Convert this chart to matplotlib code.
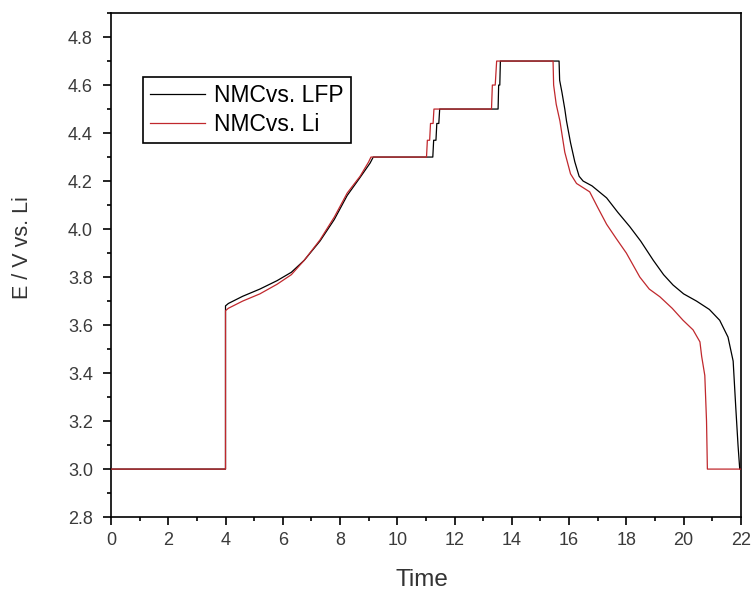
import matplotlib
matplotlib.use('Agg')
import matplotlib.pyplot as plt
from matplotlib.ticker import MultipleLocator

plt.rcParams['font.family'] = ['Liberation Sans', 'DejaVu Sans']

# NMC vs. LFP (black)
t_lfp = [0, 4.0, 4.0, 4.1, 4.6, 5.2, 5.8, 6.3, 6.75, 7.3, 7.8, 8.25, 8.7, 9.05, 9.16,
         11.24, 11.27, 11.35, 11.38, 11.45, 11.48, 11.51,
         13.52, 13.54, 13.58, 13.6,
         15.65, 15.67, 15.75, 15.85, 15.91, 16.05, 16.2, 16.35, 16.49, 16.8, 17.31, 17.7,
         18.12, 18.5, 18.94, 19.3, 19.63, 20.0, 20.45, 20.9, 21.26, 21.55, 21.73, 21.82,
         21.9, 21.96, 22.0]
v_lfp = [3.0, 3.0, 3.68, 3.69, 3.72, 3.75, 3.785, 3.82, 3.87, 3.95, 4.04, 4.14, 4.215, 4.275, 4.30,
         4.30, 4.37, 4.37, 4.44, 4.44, 4.50, 4.50,
         4.50, 4.60, 4.60, 4.70,
         4.70, 4.62, 4.57, 4.50, 4.45, 4.36, 4.28, 4.22, 4.20, 4.18, 4.13, 4.07,
         4.01, 3.95, 3.87, 3.81, 3.767, 3.73, 3.70, 3.665, 3.62, 3.55, 3.45, 3.26,
         3.10, 3.0, 3.0]

# NMC vs. Li (red)
t_li = [0, 4.0, 4.0, 4.1, 4.6, 5.2, 5.8, 6.3, 6.75, 7.3, 7.8, 8.25, 8.7, 9.0, 9.08,
        11.02, 11.05, 11.13, 11.16, 11.25, 11.28, 11.31,
        13.29, 13.32, 13.42, 13.47,
        15.44, 15.46, 15.55, 15.68, 15.85, 16.05, 16.26, 16.72, 17.0, 17.31, 17.65,
        18.0, 18.47, 18.8, 19.17, 19.6, 19.98, 20.33, 20.57, 20.63, 20.74, 20.8,
        20.83, 22.0]
v_li = [3.0, 3.0, 3.66, 3.67, 3.70, 3.73, 3.77, 3.81, 3.87, 3.955, 4.05, 4.15, 4.22, 4.28, 4.30,
        4.30, 4.37, 4.37, 4.44, 4.44, 4.50, 4.50,
        4.50, 4.60, 4.60, 4.70,
        4.70, 4.60, 4.52, 4.45, 4.32, 4.23, 4.19, 4.155, 4.09, 4.02, 3.96,
        3.90, 3.80, 3.75, 3.718, 3.67, 3.62, 3.58, 3.53, 3.47, 3.39, 3.2,
        3.0, 3.0]

yticks = [2.8, 3.0, 3.2, 3.4, 3.6, 3.8, 4.0, 4.2, 4.4, 4.6, 4.8]

fig = plt.figure(figsize=(7.56, 5.93), dpi=100)
ax = fig.add_axes([0.1468, 0.128, 0.8332, 0.850])

ax.plot(t_lfp, v_lfp, color='black', lw=0.9, label='NMCvs. LFP', zorder=2)
ax.plot(t_li, v_li, color='#c0282d', lw=0.9, label='NMCvs. Li', zorder=3)

ax.set_xlim(0, 22)
ax.set_ylim(2.8, 4.9)
ax.xaxis.set_major_locator(MultipleLocator(2))
ax.xaxis.set_minor_locator(MultipleLocator(1))
ax.yaxis.set_minor_locator(MultipleLocator(0.1))
ax.set_yticks(yticks)
ax.set_yticklabels(['%.1f' % v for v in yticks])

for s in ax.spines.values():
    s.set_linewidth(1.2)
ax.tick_params(which='major', direction='out', length=6, width=1.2,
               labelsize=13, labelcolor='#3a3a3a')
ax.tick_params(axis='x', which='major', pad=5)
ax.tick_params(axis='y', which='major', pad=7)
ax.tick_params(which='minor', direction='out', length=3, width=1.2)

ax.set_xlabel('Time', fontsize=17.5, color='#333333')
ax.xaxis.set_label_coords(0.494, -0.103)
ax.set_ylabel('E / V vs. Li', fontsize=15.5, color='#333333')
ax.yaxis.set_label_coords(-0.124, 0.535)

leg = ax.legend(loc='upper left', bbox_to_anchor=(0.0508, 0.873), fontsize=16.5,
                frameon=True, fancybox=False, handlelength=2.4, handletextpad=0.4,
                borderpad=0.3, labelspacing=0.28, borderaxespad=0)
leg.get_frame().set_edgecolor('black')
leg.get_frame().set_linewidth(1.2)
leg.get_frame().set_alpha(1)

fig.savefig('out.png', dpi=100)
